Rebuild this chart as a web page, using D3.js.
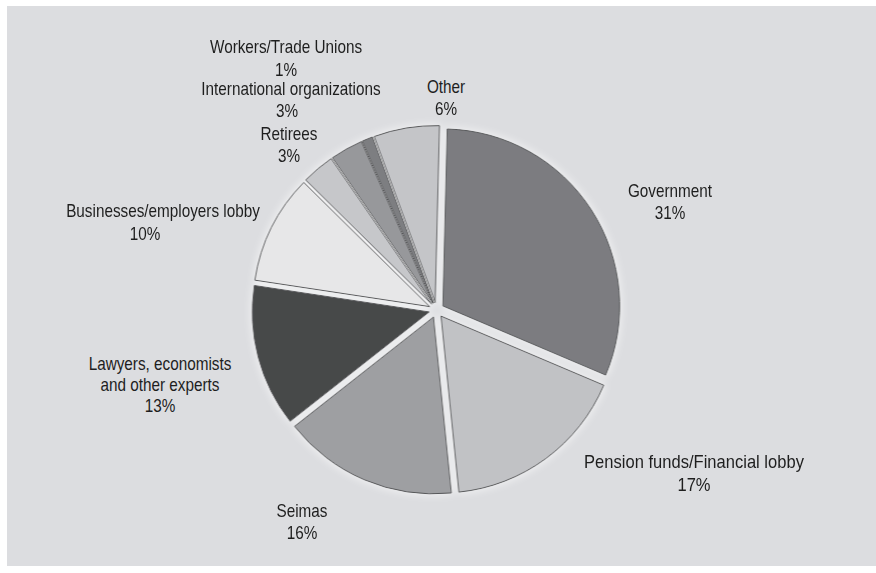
<!DOCTYPE html>
<html>
<head>
<meta charset="utf-8">
<script src="https://cdn.jsdelivr.net/npm/d3@7"></script>
<style>
  html, body { margin: 0; padding: 0; background: #ffffff; }
  svg { display: block; }
  .lbl { font-family: "Liberation Sans", Arial, sans-serif; font-size: 18px; fill: #1e1e1e; }
</style>
</head>
<body>
<svg id="chart" width="876" height="573"></svg>
<script>
// Who shaped the pension debate: share of actors (%)
const categories = [
  "Government",
  "Pension funds/Financial lobby",
  "Seimas",
  "Lawyers, economists\nand other experts",
  "Businesses/employers lobby",
  "Retirees",
  "International organizations",
  "Workers/Trade Unions",
  "Other"
];
const shares = [31, 17, 16, 13, 10, 3, 3, 1, 6];
const sliceColors = ["#7b7c80", "#c1c2c5", "#9e9fa2", "#47484a", "#e7e7e8",
                     "#c6c7ca", "#97989b", "#7d7e81", "#c4c5c8"];

// Label anchors: centre x of each text line and its baseline, plus horizontal squeeze
const labelLayout = [
  { sx: 0.85, lines: [[670, 197], [670, 219]] },
  { sx: 0.92, lines: [[694, 468], [694, 491]] },
  { sx: 0.85, lines: [[302, 517], [302, 539]] },
  { sx: 0.85, lines: [[160, 370], [160, 391], [160, 412]] },
  { sx: 0.85, lines: [[163, 217], [145, 240]] },
  { sx: 0.85, lines: [[289, 140], [289, 162]] },
  { sx: 0.85, lines: [[291, 95], [287, 117]] },
  { sx: 0.85, lines: [[286, 53], [286, 76]] },
  { sx: 0.85, lines: [[446, 93], [446, 115]] }
];

const W = 876, H = 573;
const svg = d3.select("#chart");

// Panel background
svg.append("rect")
  .attr("x", 7).attr("y", 6)
  .attr("width", W - 7).attr("height", 560)
  .attr("fill", "#dcdde0");

// Soft light halo around the slices
const defs = svg.append("defs");
const glow = defs.append("filter").attr("id", "halo")
  .attr("x", "-20%").attr("y", "-20%").attr("width", "140%").attr("height", "140%");
glow.append("feMorphology").attr("in", "SourceAlpha").attr("operator", "dilate").attr("radius", 1).attr("result", "d");
glow.append("feGaussianBlur").attr("in", "d").attr("stdDeviation", 4).attr("result", "b");
glow.append("feFlood").attr("flood-color", "#ffffff").attr("flood-opacity", 0.6).attr("result", "f");
glow.append("feComposite").attr("in", "f").attr("in2", "b").attr("operator", "in").attr("result", "g");
const merge = glow.append("feMerge");
merge.append("feMergeNode").attr("in", "g");
merge.append("feMergeNode").attr("in", "SourceGraphic");

const cx = 436.5, cy = 310, radius = 177, explode = 7.5;
const rot = 1.4 * Math.PI / 180;

const pie = d3.pie().sort(null).value(d => d)
  .startAngle(rot).endAngle(2 * Math.PI + rot);
const arc = d3.arc().innerRadius(0).outerRadius(radius);
const arcs = pie(shares);

const g = svg.append("g")
  .attr("transform", `translate(${cx},${cy})`)
  .attr("filter", "url(#halo)");

g.selectAll("path")
  .data(arcs)
  .join("path")
  .attr("d", arc)
  .attr("transform", d => {
    const mid = (d.startAngle + d.endAngle) / 2;
    return `translate(${explode * Math.sin(mid)},${-explode * Math.cos(mid)})`;
  })
  .attr("fill", (d, i) => sliceColors[i])
  .attr("stroke", "#555658")
  .attr("stroke-width", 1)
  .attr("stroke-linejoin", "miter");

// Labels: category name (possibly multi-line) then percentage
const labels = svg.append("g");
categories.forEach((name, i) => {
  const lines = name.split("\n").concat([shares[i] + "%"]);
  const lay = labelLayout[i];
  lines.forEach((t, j) => {
    const [x, y] = lay.lines[j];
    labels.append("text")
      .attr("class", "lbl")
      .attr("transform", `translate(${x},${y}) scale(${lay.sx},1)`)
      .attr("text-anchor", "middle")
      .text(t);
  });
});
</script>
</body>
</html>
